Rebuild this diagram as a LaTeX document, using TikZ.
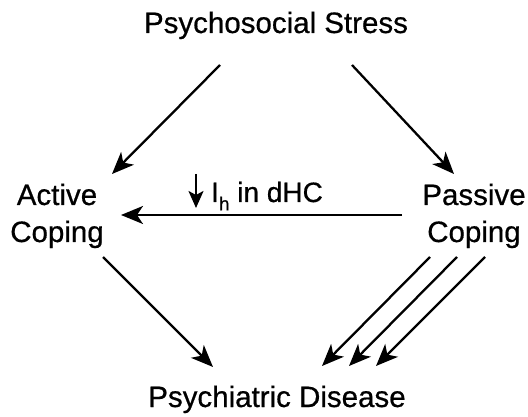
\documentclass[tikz,border=0pt]{standalone}
\usepackage{fontspec}
\setmainfont{Liberation Sans}
\newfontfamily\heavy{Liberation Sans}[FakeBold=0.6]
\usetikzlibrary{arrows.meta}
\begin{document}
\begin{tikzpicture}[x=1pt,y=-1pt,
  lbl/.style={inner sep=0pt, font=\heavy\fontsize{29.5}{37}\selectfont, align=center},
  small/.style={inner sep=0pt, font=\heavy\fontsize{28}{32}\selectfont},
  conn/.style={line width=2.3pt, -{Stealth[length=22pt,width=18pt,inset=6pt]}}]
\useasboundingbox[fill=white] (0,0) rectangle (528,417);
% nodes
\node[lbl, anchor=base] (stress) at (276,33) {Psychosocial Stress};
\node[lbl, anchor=base] (active) at (57,242) {Active\\Coping};
\node[lbl, anchor=base] (passive) at (474,242) {Passive\\Coping};
\node[lbl, anchor=base] (disease) at (277,407) {Psychiatric Disease};
\node[small, anchor=base west] (ih) at (211,202) {I\raisebox{-0.3em}{\fontsize{19}{19}\selectfont h} in dHC};
% connector end points
\coordinate (s1) at (220,65);   \coordinate (a1) at (112,174);
\coordinate (s2) at (352,65);   \coordinate (p1) at (454,174);
\coordinate (p2) at (402,215);  \coordinate (a2) at (121,215);
\coordinate (a3) at (103,257);  \coordinate (d1) at (213,367);
\coordinate (p3) at (430,257);  \coordinate (d2) at (322,366);
\coordinate (p4) at (457,257);  \coordinate (d3) at (349,366);
\coordinate (p5) at (485,257);  \coordinate (d4) at (376,366);
\coordinate (dn1) at (196,174); \coordinate (dn2) at (196,208);
% connectors
\draw[conn] (s1) -- (a1);
\draw[conn] (s2) -- (p1);
\draw[conn] (p2) -- (a2);
\draw[conn] (a3) -- (d1);
\draw[conn] (p3) -- (d2);
\draw[conn] (p4) -- (d3);
\draw[conn] (p5) -- (d4);
\draw[line width=2pt, -{Stealth[length=17pt,width=15pt,inset=4pt]}] (dn1) -- (dn2);
\end{tikzpicture}
\end{document}
